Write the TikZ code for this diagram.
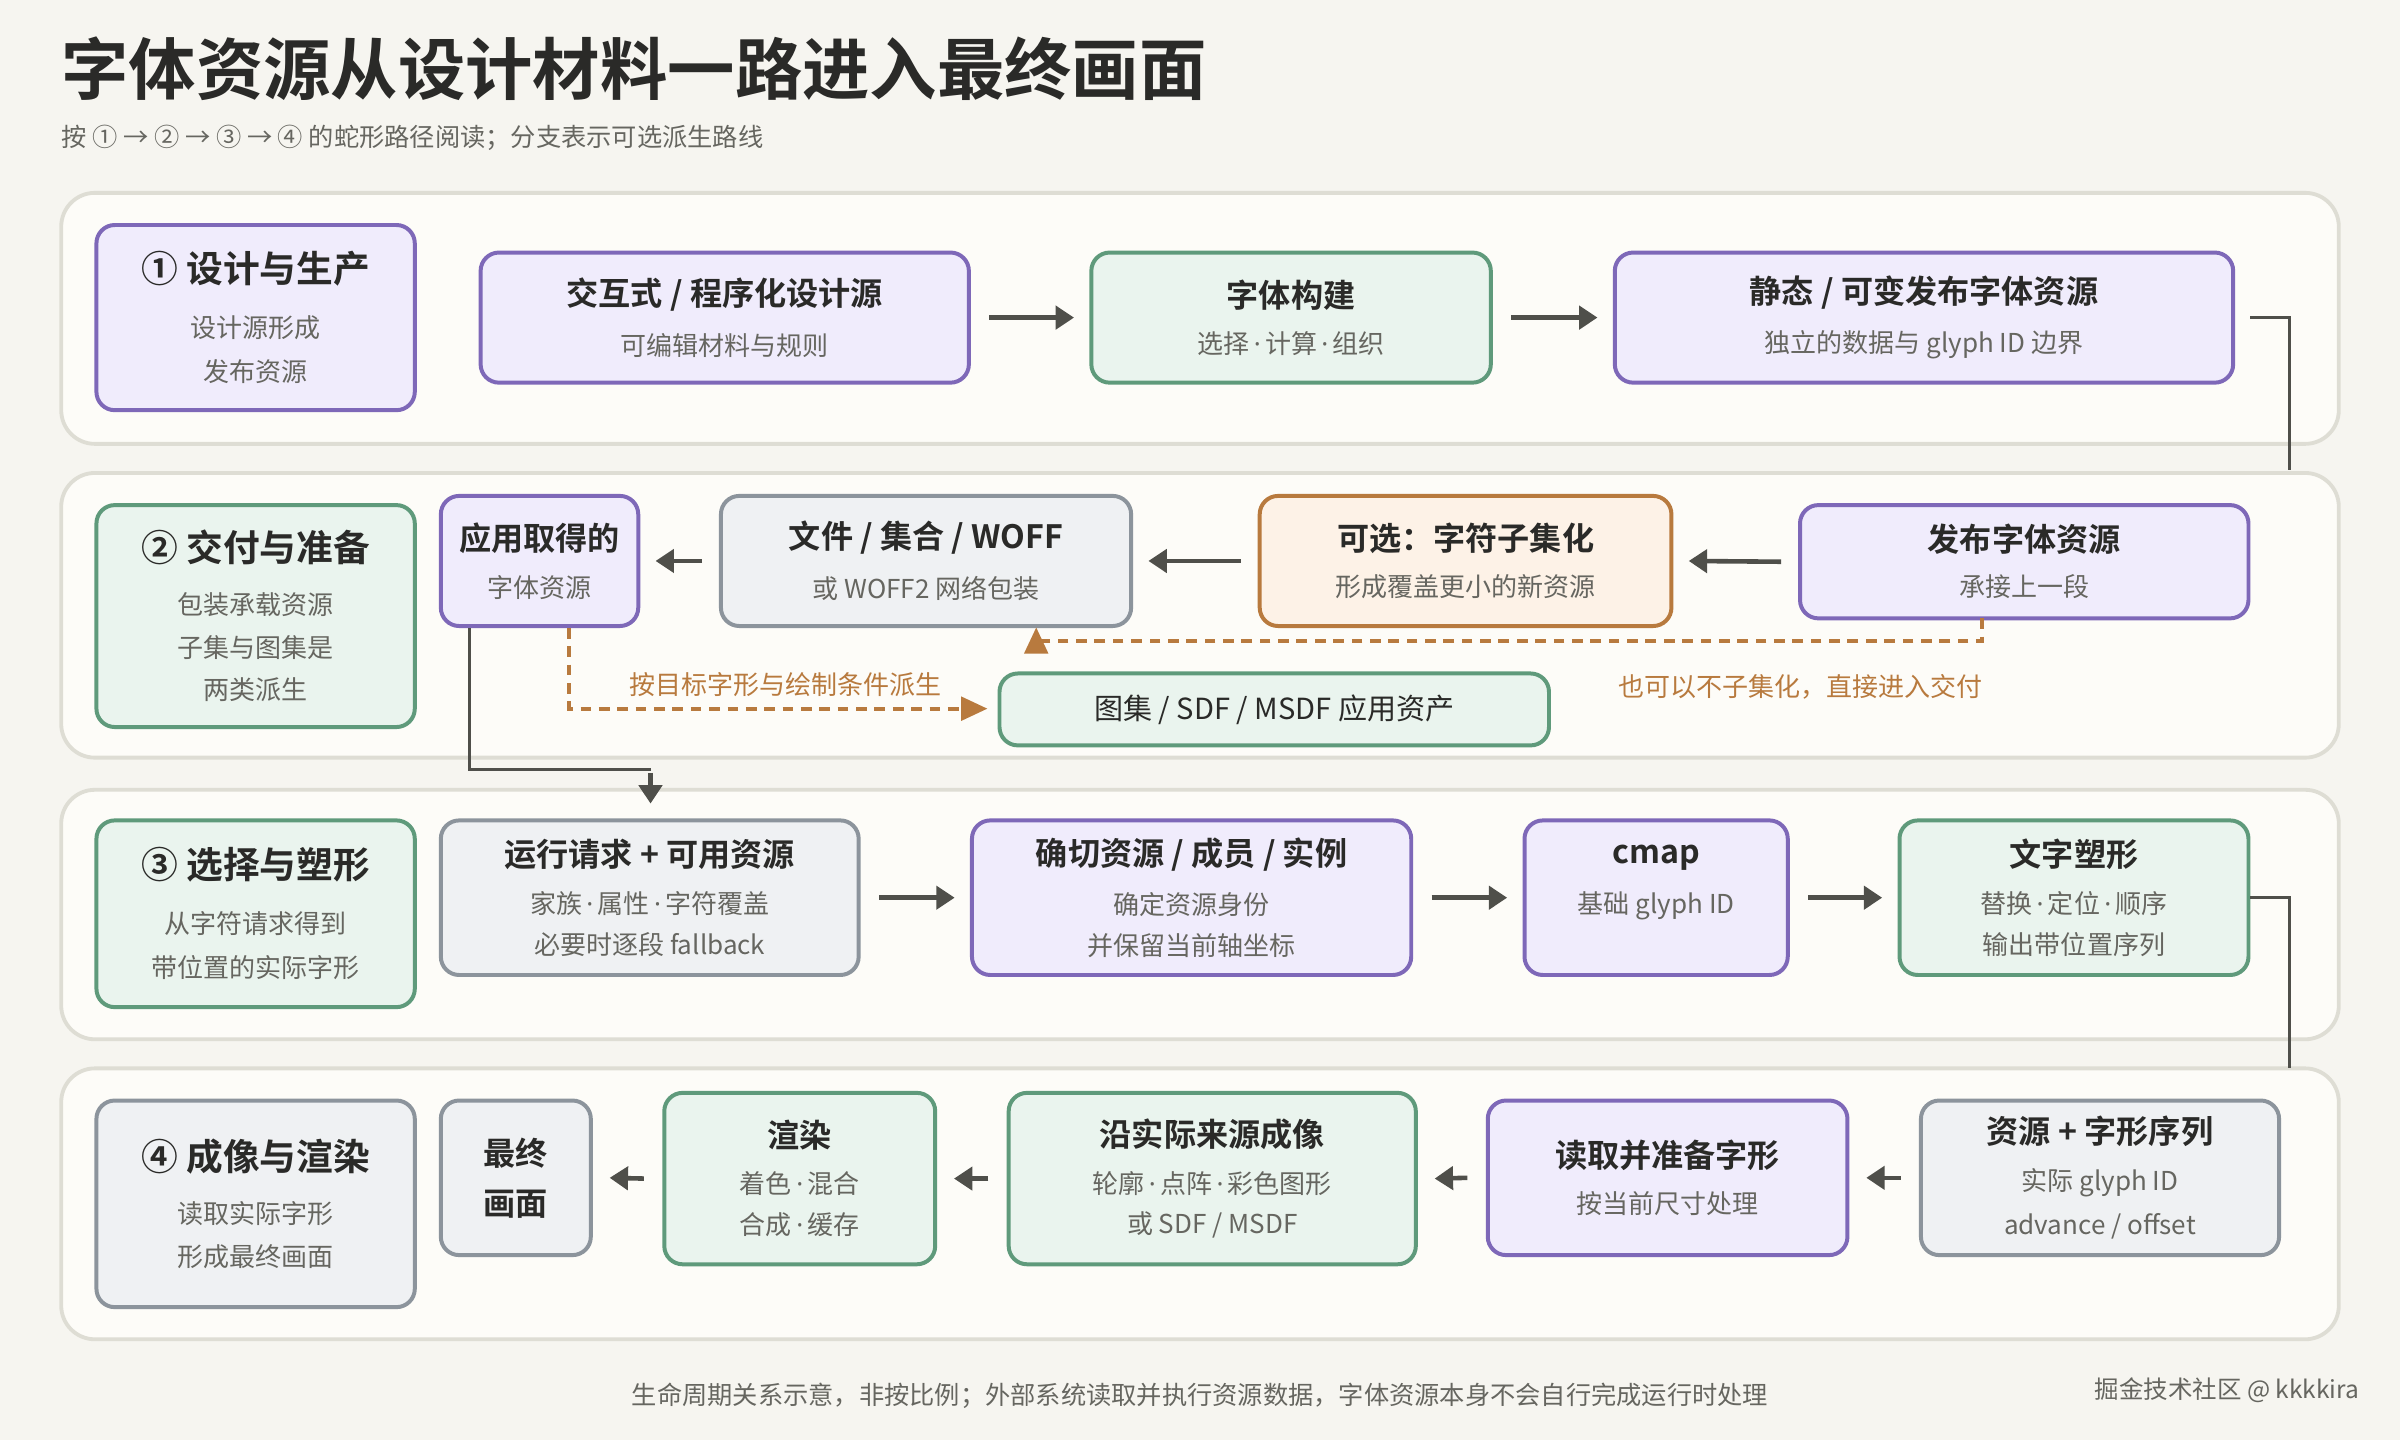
\documentclass[tikz,border=0pt]{standalone}
\usepackage{fontspec}
\setmainfont{Noto Sans CJK SC}[BoldFont={Noto Sans CJK SC Bold}]
\newfontfamily\latf{Noto Sans}
\usetikzlibrary{arrows.meta}
\definecolor{bg}{HTML}{F6F5F0}
\definecolor{lanef}{HTML}{FDFCF8}
\definecolor{lanes}{HTML}{DEDDD4}
\definecolor{ink}{HTML}{2A2A28}
\definecolor{subc}{HTML}{666660}
\definecolor{pf}{HTML}{F0ECFC}\definecolor{ps}{HTML}{7E68B8}
\definecolor{gf}{HTML}{EAF4EE}\definecolor{gs}{HTML}{5F9A7B}
\definecolor{yf}{HTML}{EFF1F3}\definecolor{ys}{HTML}{8C949C}
\definecolor{of}{HTML}{FDF2E7}\definecolor{os}{HTML}{B87A3E}
\definecolor{arr}{HTML}{4F4F4A}
\newcommand\md{{\latf\,·\,}}
\newcommand\bt[1]{{\fontsize{21}{25}\selectfont\bfseries\color{ink}#1}}
\newcommand\sbt[1]{{\fontsize{17}{20}\selectfont\color{subc}#1}}
\newcommand\stt[1]{{\fontsize{24}{28}\selectfont\bfseries\color{ink}#1}}
\tikzset{
 box/.style={draw, rounded corners=12pt, line width=2.6pt, align=center, inner sep=0pt},
 P/.style={box, fill=pf, draw=ps}, G/.style={box, fill=gf, draw=gs},
 Y/.style={box, fill=yf, draw=ys}, O/.style={box, fill=of, draw=os},
 lane/.style={draw=lanes, fill=lanef, line width=2.5pt, rounded corners=22pt},
 ar/.style={draw=arr, line width=3pt, -{Triangle[length=12pt,width=15pt]}},
 ln/.style={draw=arr, line width=2pt},
 da/.style={draw=os, line width=2.5pt, dash pattern=on 7pt off 5pt},
 oa/.style={fill=os, draw=none},
}
\newcommand\bx[7]{\node[#6, minimum width={(#4-#2)*1pt}, minimum height={(#5-#3)*1pt}] (#1) at ({(#2+#4)/2},{(#3+#5)/2}) {#7};}
\begin{document}
\begin{tikzpicture}[x=1pt,y=-1pt]
\fill[bg] (0,0) rectangle (1568,941);
\useasboundingbox (0,0) rectangle (1568,941);
\node[anchor=west, inner sep=0] (title) at (40,45) {\fontsize{44}{52}\selectfont\bfseries\color{ink}字体资源从设计材料一路进入最终画面};
\node[anchor=west, inner sep=0] (subt) at (40,90) {\fontsize{16.5}{20}\selectfont\color{subc}按 ① → ② → ③ → ④ 的蛇形路径阅读；分支表示可选派生路线};
% lanes
\draw[lane] (40,126) rectangle (1528,290);
\draw[lane] (40,309) rectangle (1528,495);
\draw[lane] (40,516) rectangle (1528,679);
\draw[lane] (40,698) rectangle (1528,875);
% row 1
\bx{s1}{63}{147}{271}{268}{P}{\stt{① 设计与生产}\\[18pt]\sbt{设计源形成}\\[12pt]\sbt{发布资源}}
\bx{a1}{314}{165}{633}{250}{P}{\bt{交互式 / 程序化设计源}\\[13pt]\sbt{可编辑材料与规则}}
\bx{a2}{713}{165}{974}{250}{G}{\bt{字体构建}\\[13pt]\sbt{选择\md 计算\md 组织}}
\bx{a3}{1055}{165}{1459}{250}{P}{\bt{静态 / 可变发布字体资源}\\[13pt]\sbt{独立的数据与 glyph ID 边界}}
\draw[ar] ([xshift=12pt]a1.east) -- ([xshift=-10pt]a2.west);
\draw[ar] ([xshift=12pt]a2.east) -- ([xshift=-10pt]a3.west);
\coordinate (k1) at (1496,307);
\draw[ln] ([xshift=10pt]a3.east) -| (k1);
% row 2
\bx{s2}{63}{330}{271}{475}{G}{\stt{② 交付与准备}\\[17pt]\sbt{包装承载资源}\\[11pt]\sbt{子集与图集是}\\[11pt]\sbt{两类派生}}
\bx{b4}{288}{324}{417}{409}{P}{\bt{应用取得的}\\[13pt]\sbt{字体资源}}
\bx{b3}{471}{324}{739}{409}{Y}{\bt{文件 / 集合 / WOFF}\\[13pt]\sbt{或 WOFF2 网络包装}}
\bx{b2}{823}{324}{1092}{409}{O}{\bt{可选：字符子集化}\\[13pt]\sbt{形成覆盖更小的新资源}}
\bx{b1}{1176}{330}{1469}{404}{P}{\bt{发布字体资源}\\[12pt]\sbt{承接上一段}}
\bx{b5}{653}{440}{1012}{487}{G}{\fontsize{19}{22}\selectfont\color{ink}图集 / SDF / MSDF 应用资产}
\draw[ar] ([xshift=-11pt]b1.west) -- ([xshift=10pt]b2.east);
\draw[ar] ([xshift=-11pt]b2.west) -- ([xshift=10pt]b3.east);
\draw[ar] ([xshift=-11pt]b3.west) -- ([xshift=10pt]b4.east);
\coordinate (d1) at (1295,404);
\coordinate (d2) at (677,426);
\draw[da] (d1) -- (1295,419) -- (677,419) -- (d2);
\fill[oa] (677,410) -- (669,427) -- (685,427) -- cycle;
\node[anchor=west, inner sep=0] (l1) at (1057,449) {\fontsize{17}{20}\selectfont\color{os}也可以不子集化，直接进入交付};
\draw[da] (b4.south -| 372,0) -- (372,463) -- (630,463);
\fill[oa] (645,463) -- (628,455) -- (628,471) -- cycle;
\node[anchor=west, inner sep=0] (l2) at (411,447) {\fontsize{17}{20}\selectfont\color{os}按目标字形与绘制条件派生};
\coordinate (t1) at (425,505);
\draw[ln] (b4.south -| 307,0) -- (307,503) -- (425,503);
\draw[ar] (t1) -- (425,525);
% row 3
\bx{s3}{63}{536}{271}{658}{G}{\stt{③ 选择与塑形}\\[18pt]\sbt{从字符请求得到}\\[12pt]\sbt{带位置的实际字形}}
\bx{c1}{288}{536}{561}{637}{Y}{\bt{运行请求 + 可用资源}\\[13pt]\sbt{家族\md 属性\md 字符覆盖}\\[10pt]\sbt{必要时逐段 fallback}}
\bx{c2}{635}{536}{922}{637}{P}{\bt{确切资源 / 成员 / 实例}\\[13pt]\sbt{确定资源身份}\\[10pt]\sbt{并保留当前轴坐标}}
\bx{c3}{996}{536}{1168}{637}{P}{\bt{cmap}\\[13pt]\sbt{基础 glyph ID}\\[10pt]\phantom{\sbt{x}}}
\bx{c4}{1241}{536}{1469}{637}{G}{\bt{文字塑形}\\[13pt]\sbt{替换\md 定位\md 顺序}\\[10pt]\sbt{输出带位置序列}}
\draw[ar] ([xshift=12pt]c1.east) -- ([xshift=-10pt]c2.west);
\draw[ar] ([xshift=12pt]c2.east) -- ([xshift=-10pt]c3.west);
\draw[ar] ([xshift=12pt]c3.east) -- ([xshift=-10pt]c4.west);
\coordinate (k2) at (1496,698);
\draw[ln] (c4.east) -| (k2);
% row 4
\bx{s4}{63}{719}{271}{854}{Y}{\stt{④ 成像与渲染}\\[17pt]\sbt{读取实际字形}\\[11pt]\sbt{形成最终画面}}
\bx{e6}{288}{719}{386}{820}{Y}{\bt{最终}\\[13pt]\bt{画面}}
\bx{e5}{434}{714}{611}{826}{G}{\bt{渲染}\\[13pt]\sbt{着色\md 混合}\\[10pt]\sbt{合成\md 缓存}}
\bx{e4}{659}{714}{925}{826}{G}{\bt{沿实际来源成像}\\[13pt]\sbt{轮廓\md 点阵\md 彩色图形}\\[10pt]\sbt{或 SDF / MSDF}}
\bx{e3}{972}{719}{1207}{820}{P}{\bt{读取并准备字形}\\[13pt]\sbt{按当前尺寸处理}}
\bx{e2}{1255}{719}{1489}{820}{Y}{\bt{资源 + 字形序列}\\[13pt]\sbt{实际 glyph ID}\\[10pt]\sbt{advance / offset}}
\draw[ar] ([xshift=-12pt]e2.west) -- ([xshift=11pt]e3.east);
\draw[ar] ([xshift=-12pt]e3.west) -- ([xshift=11pt]e4.east);
\draw[ar] ([xshift=-12pt]e4.west) -- ([xshift=11pt]e5.east);
\draw[ar] ([xshift=-12pt]e5.west) -- ([xshift=11pt]e6.east);
% footer
\node[inner sep=0] (foot) at (784,912) {\fontsize{16.5}{20}\selectfont\color{subc}生命周期关系示意，非按比例；外部系统读取并执行资源数据，字体资源本身不会自行完成运行时处理};
\node[inner sep=0] (wm) at (1455,908) {\fontsize{16}{19}\selectfont\color{subc}掘金技术社区 @ kkkkira};
\end{tikzpicture}
\end{document}
